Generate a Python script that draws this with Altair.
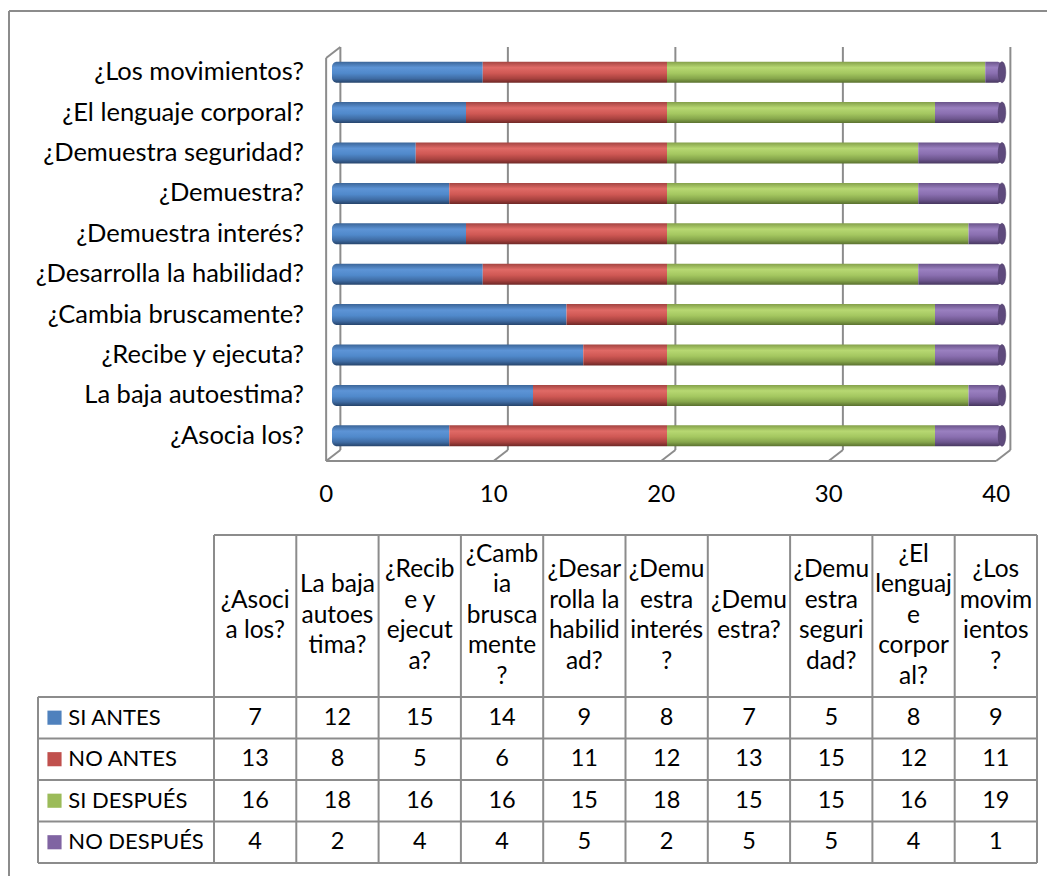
import altair as alt
import pandas as pd

# ---------------- data ----------------
questions = ["¿Asocia los?", "La baja autoestima?", "¿Recibe y ejecuta?",
             "¿Cambia bruscamente?", "¿Desarrolla la habilidad?", "¿Demuestra interés?",
             "¿Demuestra?", "¿Demuestra seguridad?", "¿El lenguaje corporal?",
             "¿Los movimientos?"]
header_labels = [["¿Asoci", "a los?"], ["La baja", "autoes", "tima?"],
                 ["¿Recib", "e y", "ejecut", "a?"], ["¿Camb", "ia", "brusca", "mente", "?"],
                 ["¿Desar", "rolla la", "habilid", "ad?"], ["¿Demu", "estra", "interés", "?"],
                 ["¿Demu", "estra?"], ["¿Demu", "estra", "seguri", "dad?"],
                 ["¿El", "lenguaj", "e", "corpor", "al?"], ["¿Los", "movim", "ientos", "?"]]
series = ["SI ANTES", "NO ANTES", "SI DESPUÉS", "NO DESPUÉS"]
si_antes = [7, 12, 15, 14, 9, 8, 7, 5, 8, 9]
no_antes = [13, 8, 5, 6, 11, 12, 13, 15, 12, 11]
si_despues = [16, 18, 16, 16, 15, 18, 15, 15, 16, 19]
no_despues = [4, 2, 4, 4, 5, 2, 5, 5, 4, 1]
ticks = [0, 10, 20, 30, 40]

values = [si_antes, no_antes, si_despues, no_despues]
base_colors = ["#4F81BD", "#C0504D", "#9BBB59", "#8064A2"]
stops = [
    ["#3b6598", "#5d94d6", "#5089cb", "#3f6ca4", "#26446b"],
    ["#a34441", "#e06a66", "#cf5854", "#a8423f", "#6e2826"],
    ["#84a04a", "#b7d872", "#a4c760", "#86a64b", "#5a712f"],
    ["#6a548a", "#9a80c0", "#8a6fb0", "#6d568e", "#47375f"],
]

FONT = "Lato"
W, H = 1039, 868
BACK, FRONT = 0.5, -0.35
LINE = "#8c8c8c"

def grad(c):
    return alt.LinearGradient(gradient="linear", x1=0, y1=0, x2=0, y2=1,
                              stops=[alt.GradientStop(offset=o, color=col)
                                     for o, col in zip([0, 0.28, 0.55, 0.8, 1], c)])

# ---------------- top: 3D-like stacked bars ----------------
xs = alt.Scale(domain=[0, 40], range=[324, 994], nice=False, zero=False)
ys = alt.Scale(domain=list(reversed(questions)), range=[44, 448], paddingInner=0, paddingOuter=0)

bar_layers = []
for k, (name, vals) in enumerate(zip(series, values)):
    rows = []
    for i, q in enumerate(questions):
        start = sum(values[j][i] for j in range(k))
        rows.append({"question": q, "serie": name, "start": start, "end": start + vals[i]})
    mk = dict(size=21, color=grad(stops[k]))
    if k == 0:
        mk.update(cornerRadiusTopLeft=5, cornerRadiusBottomLeft=5)
    if k == 3:
        mk.update(cornerRadiusTopRight=5, cornerRadiusBottomRight=5)
    bar_layers.append(
        alt.Chart(pd.DataFrame(rows)).mark_bar(**mk).encode(
            x=alt.X("start:Q", scale=xs, axis=None),
            x2="end:Q",
            y=alt.Y("question:N", scale=ys, axis=None),
        )
    )

# elliptical top face of each cylinder (at the stacked total)
cap_df = pd.DataFrame({"question": questions,
                       "total": [sum(v[i] for v in values) for i in range(len(questions))]})
ELLIPSE = "M0,-1 A0.36,1 0 1,1 0,1 A0.36,1 0 1,1 0,-1 Z"
caps = alt.Chart(cap_df).mark_point(shape=ELLIPSE, size=441, filled=True, opacity=1,
                                    color="#5e4a7c", stroke="#4a3a62", strokeWidth=0.5).encode(
    x=alt.X("total:Q", scale=xs, axis=None),
    y=alt.Y("question:N", scale=ys, axis=None))

tick_df = pd.DataFrame({"v": ticks})
grid = alt.Chart(tick_df).mark_rule(color=LINE, strokeWidth=2).transform_calculate(
    bx=f"datum.v + {BACK}").encode(
    x=alt.X("bx:Q", scale=xs, axis=None), y=alt.value(39), y2=alt.value(442))
diag = alt.Chart(tick_df).mark_rule(color=LINE, strokeWidth=2).transform_calculate(
    bx=f"datum.v + {BACK}", fx=f"datum.v + {FRONT}").encode(
    x=alt.X("bx:Q", scale=xs, axis=None), x2="fx:Q", y=alt.value(442), y2=alt.value(453))
floor = alt.Chart(pd.DataFrame({"a": [ticks[0]], "b": [ticks[-1]]})).mark_rule(
    color=LINE, strokeWidth=2).transform_calculate(
    fa=f"datum.a + {FRONT}", fb=f"datum.b + {FRONT}").encode(
    x=alt.X("fa:Q", scale=xs, axis=None), x2="fb:Q", y=alt.value(453))
left_wall = alt.Chart(pd.DataFrame({"a": [ticks[0]]})).mark_rule(
    color=LINE, strokeWidth=2).transform_calculate(fa=f"datum.a + {FRONT}").encode(
    x=alt.X("fa:Q", scale=xs, axis=None), y=alt.value(50), y2=alt.value(453))
top_slant = alt.Chart(pd.DataFrame({"a": [ticks[0]]})).mark_rule(
    color=LINE, strokeWidth=2).transform_calculate(
    fa=f"datum.a + {FRONT}", ba=f"datum.a + {BACK}").encode(
    x=alt.X("fa:Q", scale=xs, axis=None), x2="ba:Q", y=alt.value(50), y2=alt.value(39))

tick_labels = alt.Chart(tick_df).mark_text(font=FONT, fontSize=24, color="#000",
                                           baseline="middle").transform_calculate(
    fx=f"datum.v + {FRONT}").encode(
    x=alt.X("fx:Q", scale=xs, axis=None), y=alt.value(487), text="v:Q")

q_labels = alt.Chart(pd.DataFrame({"question": questions})).mark_text(
    font=FONT, fontSize=25.5, color="#000", align="right", baseline="middle").encode(
    x=alt.value(296), y=alt.Y("question:N", scale=ys, axis=None), text="question:N")

top = alt.layer(grid, diag, floor, left_wall, top_slant, *bar_layers, caps, tick_labels, q_labels)

# ---------------- bottom: data table ----------------
HEAD = 3.9
LEG_LEFT = -2.1385
LH = 0.735  # header line height in row units
cs = alt.Scale(domain=[0, 10], range=[206, 1029], nice=False, zero=False)
rs = alt.Scale(domain=[0, HEAD + 4], range=[527, 855], nice=False, zero=False)

hlines = pd.DataFrame({"x": [0] + [LEG_LEFT] * 5, "x2": [10] * 6,
                       "y": [0, HEAD, HEAD + 1, HEAD + 2, HEAD + 3, HEAD + 4]})
vlines = pd.DataFrame({"x": list(range(11)) + [LEG_LEFT],
                       "y": [0] * 11 + [HEAD], "y2": [HEAD + 4] * 12})
t_h = alt.Chart(hlines).mark_rule(color=LINE, strokeWidth=2).encode(
    x=alt.X("x:Q", scale=cs, axis=None), x2="x2:Q",
    y=alt.Y("y:Q", scale=rs, axis=None))
t_v = alt.Chart(vlines).mark_rule(color=LINE, strokeWidth=2).encode(
    x=alt.X("x:Q", scale=cs, axis=None),
    y=alt.Y("y:Q", scale=rs, axis=None), y2="y2:Q")

head_rows = []
for i, lines in enumerate(header_labels):
    n = len(lines)
    for j, ln in enumerate(lines):
        head_rows.append({"c": i + 0.5, "r": HEAD / 2 + (j - (n - 1) / 2) * LH, "label": ln})
t_head = alt.Chart(pd.DataFrame(head_rows)).mark_text(
    font=FONT, fontSize=24.5, color="#000", align="center", baseline="middle").encode(
    x=alt.X("c:Q", scale=cs, axis=None), y=alt.Y("r:Q", scale=rs, axis=None), text="label:N")

cell_rows = []
for k, vals in enumerate(values):
    for i, v in enumerate(vals):
        cell_rows.append({"c": i + 0.5, "r": HEAD + k + 0.5, "v": v})
t_cells = alt.Chart(pd.DataFrame(cell_rows)).mark_text(
    font=FONT, fontSize=23.5, color="#000", align="center", baseline="middle").encode(
    x=alt.X("c:Q", scale=cs, axis=None), y=alt.Y("r:Q", scale=rs, axis=None), text="v:Q")

leg_df = pd.DataFrame({"serie": series, "r": [HEAD + k + 0.5 for k in range(4)],
                       "sw": [-1.938] * 4, "tx": [-1.77] * 4})
t_sw = alt.Chart(leg_df).mark_square(size=200, opacity=1, filled=True).encode(
    x=alt.X("sw:Q", scale=cs, axis=None), y=alt.Y("r:Q", scale=rs, axis=None),
    color=alt.Color("serie:N", scale=alt.Scale(domain=series, range=base_colors), legend=None))
t_lt = alt.Chart(leg_df).mark_text(font=FONT, fontSize=22, color="#000", align="left",
                                   baseline="middle").encode(
    x=alt.X("tx:Q", scale=cs, axis=None), y=alt.Y("r:Q", scale=rs, axis=None), text="serie:N")

table = alt.layer(t_h, t_v, t_head, t_cells, t_sw, t_lt)

# ---------------- outer frame ----------------
border_top = alt.Chart(pd.DataFrame({"a": [0]})).mark_rule(color="#8c8c8c", strokeWidth=2).encode(
    x=alt.value(1), x2=alt.value(W), y=alt.value(3))
border_left = alt.Chart(pd.DataFrame({"a": [0]})).mark_rule(color="#8c8c8c", strokeWidth=2).encode(
    x=alt.value(1), y=alt.value(3), y2=alt.value(H))

chart = alt.layer(border_top, border_left, top, table).resolve_scale(
    x="independent", y="independent", color="independent"
).properties(
    width=W, height=H, autosize=alt.AutoSizeParams(type="none"), padding=0
).configure_view(stroke=None)

chart.save("out.html", embed_options={"renderer": "svg", "actions": False})
